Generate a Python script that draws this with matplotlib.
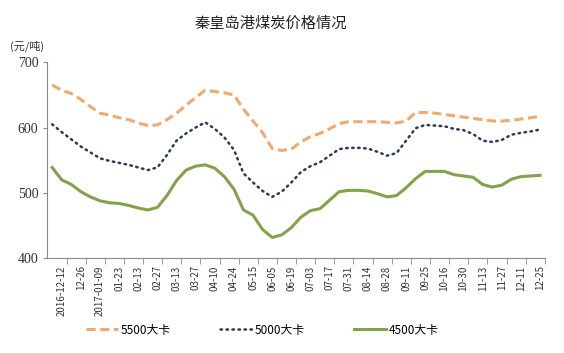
import numpy as np
import matplotlib
matplotlib.use("Agg")
import matplotlib.pyplot as plt

plt.rcParams['font.family'] = ['Noto Sans CJK SC', 'DejaVu Sans']

# tick labels (every other weekly point)
labels = ['2016-12-12', '12-26', '2017-01-09', '01-23', '02-13', '02-27', '03-13',
          '03-27', '04-10', '04-24', '05-15', '06-05', '06-19', '07-03', '07-17',
          '07-31', '08-14', '08-28', '09-11', '09-25', '10-16', '10-30', '11-13',
          '11-27', '12-11', '12-25']

# weekly prices (yuan/ton)
p5500 = [665, 657, 652, 643, 632, 622, 619, 615, 612, 607, 603, 604, 612, 622,
         634, 646, 657, 655, 653, 650, 628, 610, 592, 568, 565, 567, 578, 586,
         591, 598, 606, 609, 609, 609, 609, 608, 607, 610, 623, 623, 622, 620,
         618, 616, 614, 612, 610, 610, 611, 613, 615, 617]
p5000 = [605, 593, 582, 571, 562, 553, 549, 546, 543, 539, 535, 539, 558, 580,
         591, 600, 608, 598, 585, 566, 530, 516, 503, 494, 502, 516, 532, 541,
         547, 557, 567, 569, 569, 568, 563, 557, 561, 580, 599, 604, 603, 602,
         598, 596, 590, 580, 578, 581, 589, 592, 594, 597]
p4500 = [539, 520, 513, 502, 494, 488, 485, 484, 481, 477, 474, 478, 496, 519,
         535, 541, 543, 538, 525, 506, 474, 466, 444, 432, 436, 447, 463, 473,
         476, 489, 502, 504, 504, 503, 499, 494, 496, 508, 522, 533, 533, 533,
         528, 526, 524, 513, 509, 512, 521, 525, 526, 527]

x = np.arange(len(p5500))

fig = plt.figure(figsize=(5.64, 3.53), dpi=100)
ax = fig.add_axes([0.084, 0.268, 0.882, 0.556])

ax.plot(x, p5500, color='#EDA15F', lw=2.2, ls=(0, (3, 1.5)), alpha=0.9, label='5500大卡')
ax.plot(x, p5000, color='#2A3B5A', lw=1.8, ls=(0, (0.6, 1.8)), dash_capstyle='round', label='5000大卡')
ax.plot(x, p4500, color='#82A34B', lw=2.2, label='4500大卡')

ax.set_xlim(-0.5, len(x) - 0.5)
ax.set_ylim(400, 700)
ax.set_yticks([400, 500, 600, 700])
ax.tick_params(axis='y', labelsize=10, length=3, color='#888888', labelcolor='#333333')
for t in ax.get_yticklabels():
    t.set_family('Liberation Serif')

ax.set_xticks(x[1::2])
ax.set_xticklabels(labels, rotation=90, fontsize=7, color='#333333')
ax.tick_params(axis='x', which='major', length=0, pad=5)
ax.set_xticks(x[1::2] + 0.5, minor=True)
ax.tick_params(axis='x', which='minor', length=4, color='#888888')

for s in ['top', 'right']:
    ax.spines[s].set_visible(False)
for s in ['left', 'bottom']:
    ax.spines[s].set_color('#888888')
    ax.spines[s].set_linewidth(0.8)

fig.text(0.48, 0.935, '秦皇岛港煤炭价格情况', ha='center', va='center', fontsize=11, color='#222222')
fig.text(0.018, 0.87, '(元/吨)', ha='left', va='center', fontsize=8, color='#333333')

fig.legend(loc='center', bbox_to_anchor=(0.465, 0.065), ncol=3, frameon=False,
           fontsize=8.5, handlelength=2.7, columnspacing=4.2, handletextpad=0.2)

fig.savefig('out.png', dpi=100)
